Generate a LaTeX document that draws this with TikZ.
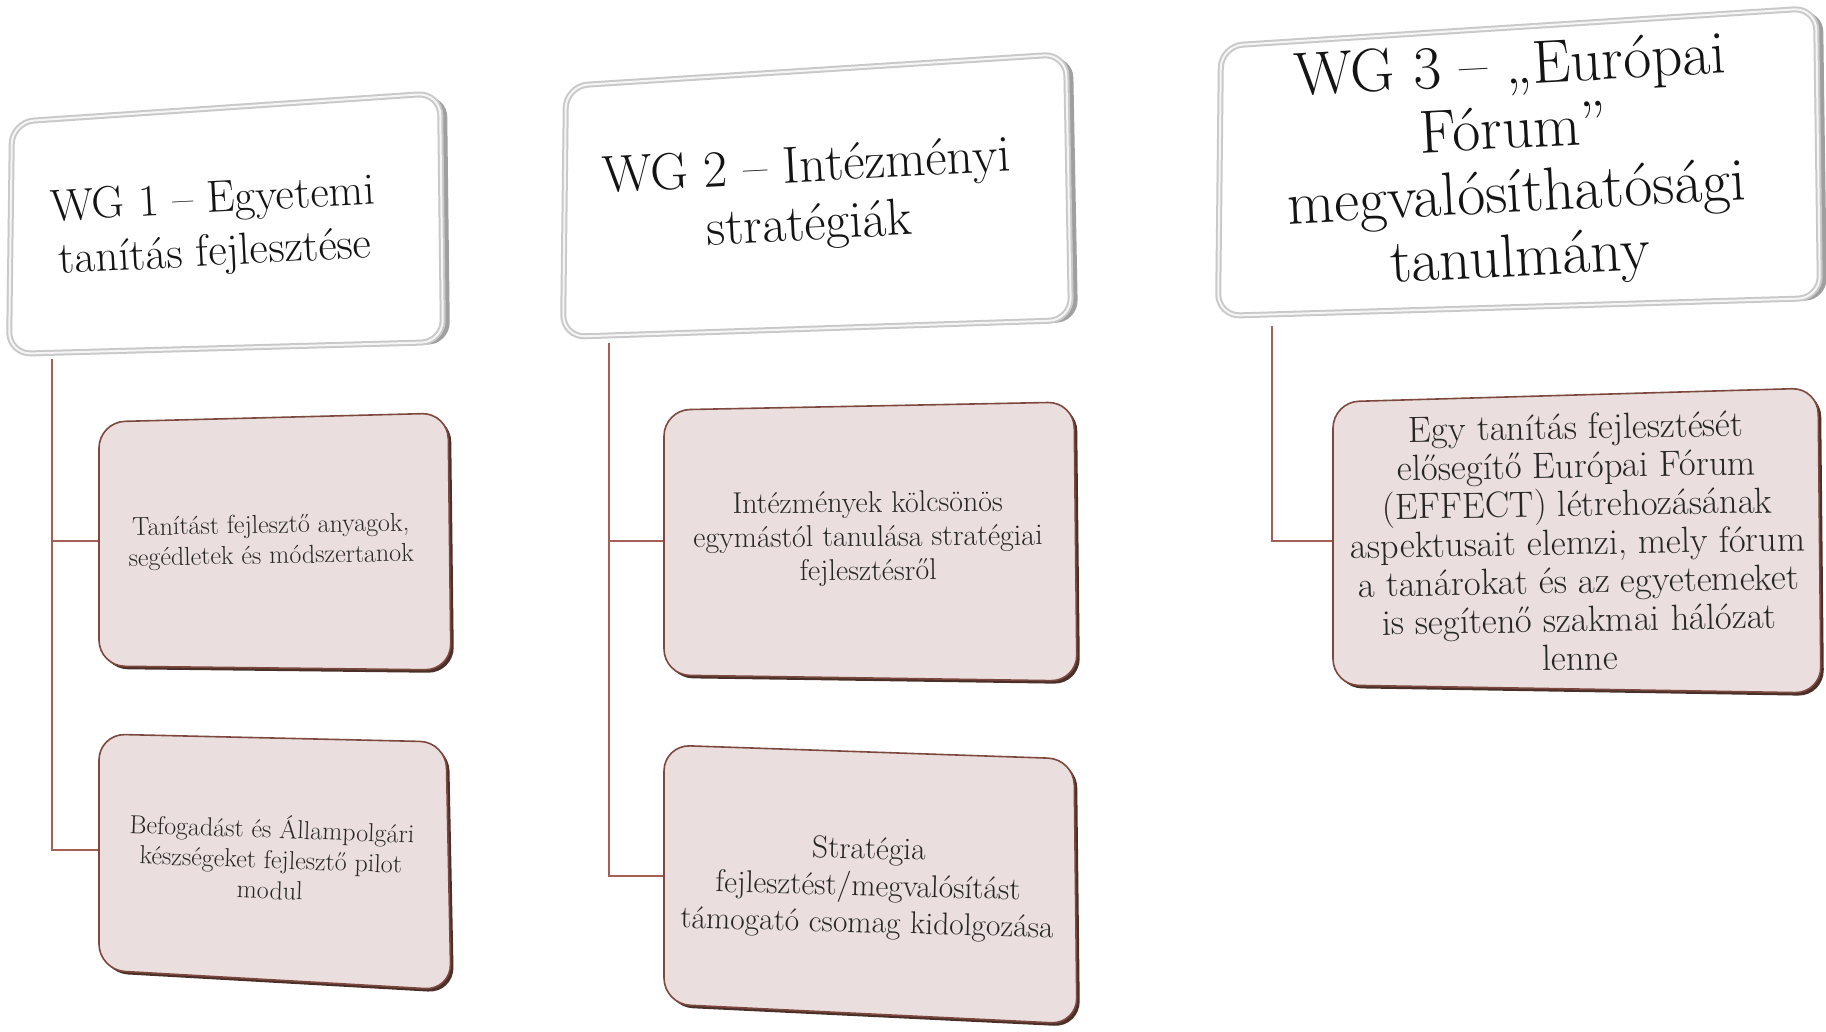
\documentclass[tikz,border=0pt]{standalone}
\usepackage{fontspec}
\setmainfont{Latin Modern Roman}
\definecolor{conn}{RGB}{165,95,85}
\definecolor{cfill}{RGB}{234,222,222}
\definecolor{cedge}{RGB}{125,72,62}
\definecolor{cshadow}{RGB}{75,48,42}
\tikzset{
  hdrshadow/.style={fill=gray!75, rounded corners=22pt},
  hdrbox/.style={fill=white, draw=gray!42, line width=6pt, rounded corners=22pt},
  hdrhi/.style={draw=gray!8, line width=2pt, rounded corners=22pt},
  chshadow/.style={fill=cshadow, rounded corners=26pt},
  chbox/.style={fill=cfill, draw=cedge, line width=1.6pt, rounded corners=26pt},
  hdrtext/.style={align=center, text=black!92, inner sep=0pt},
  chtext/.style={align=center, text=black!85, inner sep=0pt},
  connector/.style={draw=conn, line width=2pt},
}
\newcommand{\hdrshape}[4]{%
  \fill[hdrshadow, xshift=7pt, yshift=-2pt] #1 -- #2 -- #3 -- #4 -- cycle;
  \draw[hdrbox] #1 -- #2 -- #3 -- #4 -- cycle;
  \draw[hdrhi] #1 -- #2 -- #3 -- #4 -- cycle;}
\newcommand{\chshape}[4]{%
  \fill[chshadow, xshift=3pt, yshift=-3pt] #1 -- #2 -- #3 -- #4 -- cycle;
  \draw[chbox] #1 -- #2 -- #3 -- #4 -- cycle;}
\begin{document}
\begin{tikzpicture}[x=1pt,y=-1pt]
\useasboundingbox[fill=white] (0,0) rectangle (1826,1031);

% connectors
\coordinate (h1b) at (52,359);
\coordinate (c1aL) at (99,541);
\coordinate (c1bL) at (99,850);
\coordinate (h2b) at (609,343);
\coordinate (c2aL) at (664,541);
\coordinate (c2bL) at (664,876);
\coordinate (h3b) at (1272,326);
\coordinate (c3aL) at (1333,541);
\draw[connector] (h1b) |- (c1aL);
\draw[connector] (h1b) |- (c1bL);
\draw[connector] (h2b) |- (c2aL);
\draw[connector] (h2b) |- (c2bL);
\draw[connector] (h3b) |- (c3aL);

% header boxes
\hdrshape{(12,122)}{(440,93)}{(443,342)}{(9,354)}
\hdrshape{(566,86)}{(1066,54)}{(1071,320)}{(563,337)}
\hdrshape{(1221,46)}{(1816,8)}{(1820,298)}{(1218,316)}

% child boxes
\chshape{(99,422)}{(448,413)}{(451,670)}{(99,666)}
\chshape{(99,734)}{(446,742)}{(451,990)}{(99,970)}
\chshape{(664,410)}{(1074,402)}{(1077,681)}{(664,675)}
\chshape{(664,745)}{(1074,759)}{(1077,1024)}{(664,1004)}
\chshape{(1333,402)}{(1818,388)}{(1821,693)}{(1333,685)}

% header texts
\node[hdrtext, rotate=3, font=\fontsize{45}{53}\selectfont] (h1) at (214,228)
  {WG 1 – Egyetemi\\tanítás fejlesztése};
\node[hdrtext, rotate=3, font=\fontsize{52}{58}\selectfont] (h2) at (808,198)
  {WG 2 – Intézményi\\stratégiák};
\node[hdrtext, rotate=3, font=\fontsize{61}{64}\selectfont] (h3) at (1515,165)
  {WG 3 – „Európai\\Fórum”\\megvalósíthatósági\\tanulmány};

% child texts
\node[chtext, rotate=1, font=\fontsize{26}{30.5}\selectfont] (c1a) at (271,542)
  {Tanítást fejlesztő anyagok,\\segédletek és módszertanok};
\node[chtext, rotate=-2, font=\fontsize{26}{30.5}\selectfont] (c1b) at (271,857)
  {Befogadást és Állampolgári\\készségeket fejlesztő pilot\\modul};
\node[chtext, rotate=0.5, font=\fontsize{30}{34}\selectfont] (c2a) at (868,539)
  {Intézmények kölcsönös\\egymástól tanulása stratégiai\\fejlesztésről};
\node[chtext, rotate=-1.5, font=\fontsize{31.5}{37}\selectfont] (c2b) at (868,888)
  {Stratégia\\fejlesztést/megvalósítást\\támogató csomag kidolgozása};
\node[chtext, rotate=1, font=\fontsize{36.5}{38.5}\selectfont] (c3a) at (1578,542)
  {Egy tanítás fejlesztését\\elősegítő Európai Fórum\\(EFFECT) létrehozásának\\aspektusait elemzi, mely fórum\\a tanárokat és az egyetemeket\\is segítenő szakmai hálózat\\lenne};
\end{tikzpicture}
\end{document}
